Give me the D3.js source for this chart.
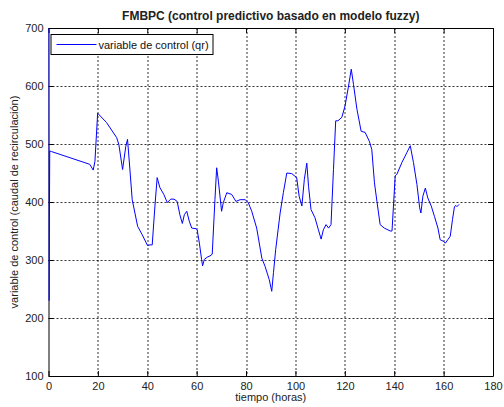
<!DOCTYPE html>
<html>
<head>
<meta charset="utf-8">
<script src="https://d3js.org/d3.v7.min.js"></script>
<style>
  body { margin: 0; background: #fff; }
  text { font-family: "Liberation Sans", Arial, sans-serif; }
</style>
</head>
<body>
<svg width="504" height="407"></svg>
<script>
// time (hours) and control variable (qr)
var tiempo = [0, 0.2, 0.5, 1.2, 16.7, 18.1, 18.8, 19.9, 23.5, 27.6, 28.5, 30, 31.3, 32, 32.6, 33.9, 36.1, 37.9,
  40.1, 41.1, 42, 43.1, 44, 45.1, 46.7, 48.1, 49.5, 50.8, 52.1, 53.2, 54.2, 55, 56, 57, 58, 59.7, 60.2, 61.1, 62,
  62.4, 63.1, 64.3, 65.4, 66.3, 67.4, 68.1, 68.8, 70.1, 70.8, 72.2, 74.2, 75.9, 77.6, 79.6, 80.9, 82.3, 84.3,
  86.4, 87.7, 89.4, 90.4, 91.1, 92, 93.8, 95.1, 96.5, 98.5, 100.5, 101.5, 102.6, 103.6, 104.6, 105.3, 106.3,
  107.9, 109.3, 110.4, 111.3, 112.4, 113.4, 114.4, 115.4, 116.3, 117.2, 118.8, 120.1, 121.5, 122.6, 123.5,
  124.9, 126.6, 128.2, 129.9, 130.9, 132, 133, 134.3, 136, 138.4, 139.1, 140.4, 141.1, 143.1, 145.1, 146.5,
  147.8, 149.2, 150.3, 150.8, 151.6, 152.6, 153.6, 155, 156.3, 157.7, 158.6, 160, 160.7, 161.7, 162.7, 163.6,
  164.4, 165, 165.4, 166.3];
var qr = [700, 230, 488, 487, 465, 455, 470, 553, 537, 511, 499, 456, 496, 508, 476, 404, 358, 344,
  325, 326, 326, 393, 442, 425, 413, 399, 405, 405, 401, 378, 363, 378, 384, 367, 355, 354, 352, 329, 301,
  290, 301, 305, 307, 310, 404, 459, 436, 384, 399, 416, 413, 401, 404, 404, 399, 384, 355,
  303, 289, 266, 246, 278, 318, 381, 416, 450, 449, 442, 410, 393, 439, 467, 427, 387,
  373, 352, 336, 352, 361, 355, 361, 456, 540, 540, 546, 566, 600, 629, 603,
  560, 522, 520, 505, 491, 433, 401, 361, 355, 350, 350, 445, 448, 468, 485, 497,
  468, 430, 390, 381, 410, 424, 407, 393, 375, 355, 335, 332, 329, 335, 341, 370,
  392, 394, 392, 396];
var xTicks = [0, 20, 40, 60, 80, 100, 120, 140, 160, 180];
var yTicks = [100, 200, 300, 400, 500, 600, 700];

var svg = d3.select("svg"),
    margin = {top: 28, right: 11, bottom: 31, left: 48.5},
    width = 504 - margin.left - margin.right,
    height = 407 - margin.top - margin.bottom;

var x = d3.scaleLinear().domain([0, 180]).range([0, width]),
    y = d3.scaleLinear().domain([100, 700]).range([height, 0]);

var g = svg.append("g").attr("transform", "translate(" + margin.left + "," + margin.top + ")");

g.append("rect").attr("width", width).attr("height", height).attr("fill", "#fff");

// grid (dotted, matlab style)
g.append("g").selectAll("line").data(xTicks.slice(1, -1)).enter().append("line")
    .attr("x1", function(d) { return Math.round(x(d)) + 0.5; })
    .attr("x2", function(d) { return Math.round(x(d)) + 0.5; })
    .attr("y1", 0).attr("y2", height)
    .attr("stroke", "#000").attr("stroke-width", 1).attr("stroke-dasharray", "2,2").attr("opacity", 0.8);
g.append("g").selectAll("line").data(yTicks.slice(1, -1)).enter().append("line")
    .attr("y1", function(d) { return Math.round(y(d)) + 0.5; })
    .attr("y2", function(d) { return Math.round(y(d)) + 0.5; })
    .attr("x1", 0).attr("x2", width)
    .attr("stroke", "#000").attr("stroke-width", 1).attr("stroke-dasharray", "2,2").attr("opacity", 0.8);

// axes
var xAxis = g.append("g").attr("transform", "translate(0," + height + ")")
    .call(d3.axisBottom(x).tickValues(xTicks).tickSizeInner(-5).tickSizeOuter(0).tickPadding(6));
var yAxis = g.append("g")
    .call(d3.axisLeft(y).tickValues(yTicks).tickSizeInner(-5).tickSizeOuter(0).tickPadding(5));
g.append("g").call(d3.axisTop(x).tickValues(xTicks).tickSizeInner(-5).tickSizeOuter(0).tickFormat(""));
g.append("g").attr("transform", "translate(" + width + ",0)")
    .call(d3.axisRight(y).tickValues(yTicks).tickSizeInner(-5).tickSizeOuter(0).tickFormat(""));
g.selectAll(".domain").attr("stroke", "#000");
g.selectAll(".tick line").attr("stroke", "#000");
g.selectAll(".tick text").attr("font-size", 11).attr("fill", "#222")
    .style("font-family", "'Liberation Sans', Arial, sans-serif");

// clip + line
g.append("clipPath").attr("id", "clip").append("rect").attr("width", width).attr("height", height);
var pts = tiempo.map(function(t, i) { return [t, qr[i]]; });
g.append("path")
    .datum(pts)
    .attr("clip-path", "url(#clip)")
    .attr("fill", "none")
    .attr("stroke", "#0000ff")
    .attr("stroke-width", 1)
    .attr("d", d3.line().x(function(d) { return x(d[0]); }).y(function(d) { return y(d[1]); }));

// legend
var legend = g.append("g").attr("transform", "translate(2,6)");
legend.append("rect").attr("x", 0.5).attr("y", 0.5).attr("width", 162).attr("height", 20)
    .attr("fill", "#fff").attr("stroke", "#000");
legend.append("line").attr("x1", 6).attr("x2", 46).attr("y1", 10.5).attr("y2", 10.5)
    .attr("stroke", "#0000ff");
legend.append("text").attr("x", 48).attr("y", 15).attr("font-size", 11).attr("fill", "#111")
    .text("variable de control (qr)");

// title & labels
svg.append("text").attr("x", margin.left + width / 2).attr("y", 20)
    .attr("text-anchor", "middle").attr("font-size", 12).attr("font-weight", "bold").attr("fill", "#222")
    .text("FMBPC (control predictivo basado en modelo fuzzy)");
svg.append("text").attr("x", margin.left + width / 2).attr("y", 401)
    .attr("text-anchor", "middle").attr("font-size", 11).attr("fill", "#222")
    .text("tiempo (horas)");
svg.append("text").attr("transform", "translate(18," + (margin.top + height / 2) + ") rotate(-90)")
    .attr("text-anchor", "middle").attr("font-size", 11).attr("fill", "#222")
    .text("variable de control (caudal de recirculación)");
</script>
</body>
</html>
